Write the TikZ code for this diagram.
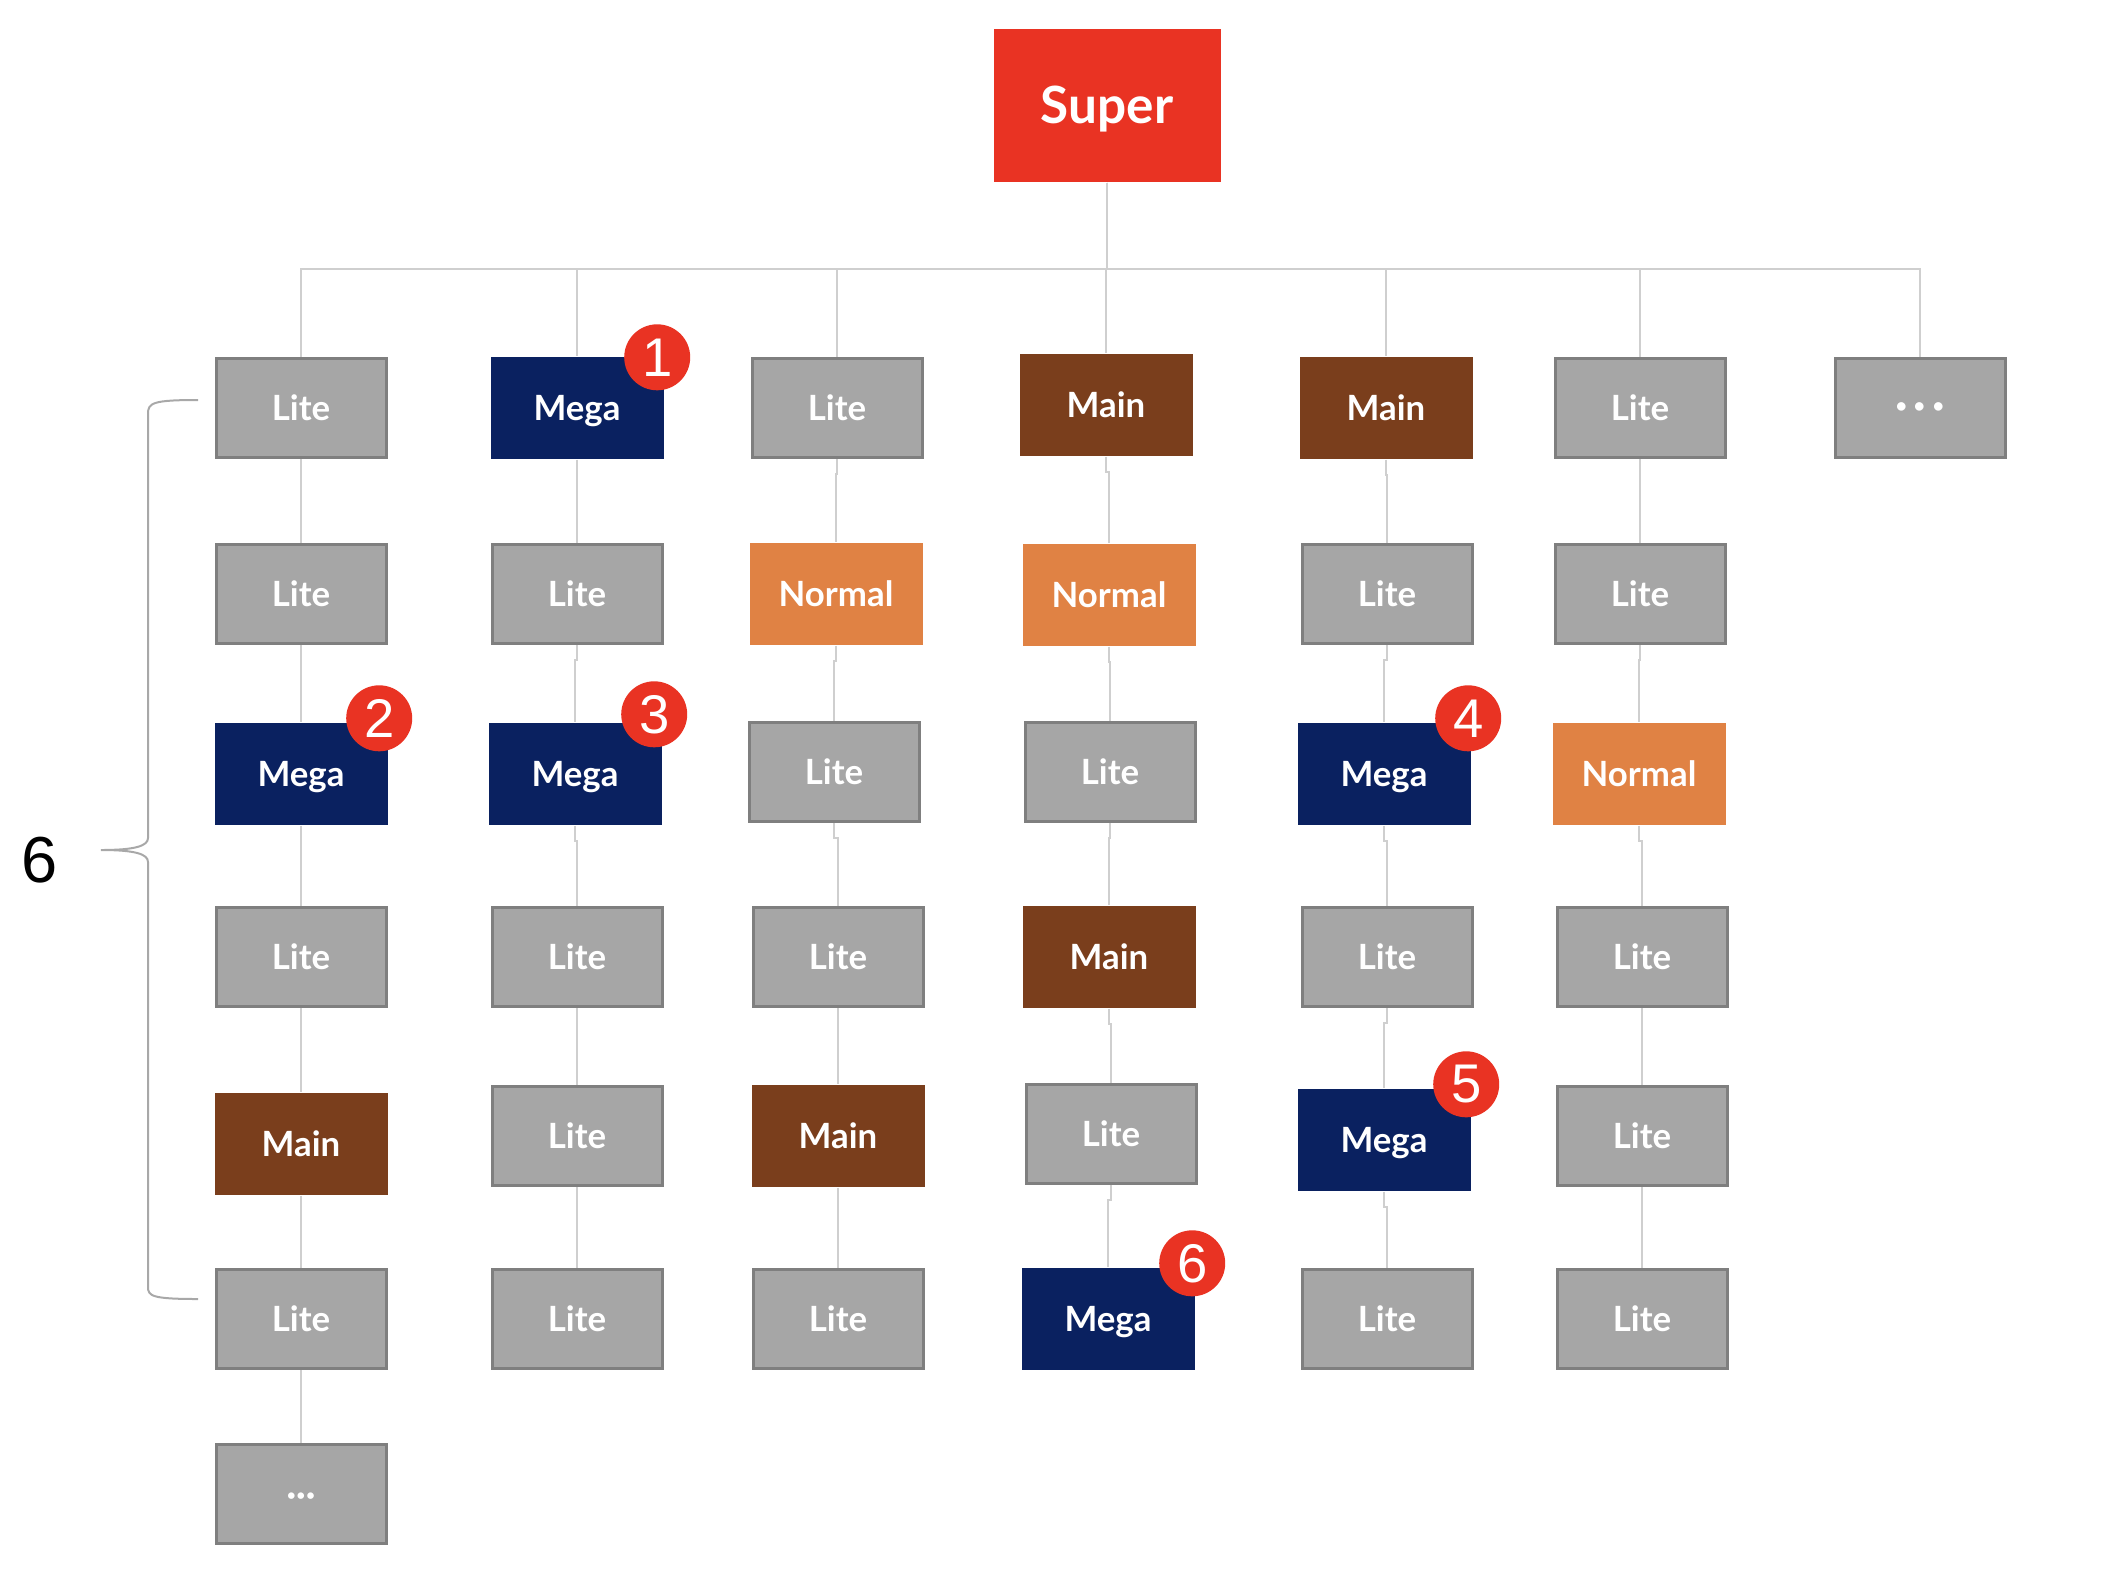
\documentclass[tikz,border=0pt]{standalone}
\usepackage{fontspec}
\setmainfont{Lato}
\newfontfamily\numfont{Liberation Sans}
\usetikzlibrary{calc}

\definecolor{superred}{HTML}{E93323}
\definecolor{litegray}{HTML}{A6A6A6}
\definecolor{liteedge}{HTML}{7F7F7F}
\definecolor{meganavy}{HTML}{0A2160}
\definecolor{mainbrown}{HTML}{7A3E1C}
\definecolor{normalorange}{HTML}{E08244}
\definecolor{linkgray}{HTML}{CFCFCF}
\definecolor{bracegray}{HTML}{A8A8A8}

\begin{document}
\begin{tikzpicture}[x=0.1mm, y=-0.1mm,
    boxtext/.style={text=white, font=\fontsize{9.9}{11}\selectfont\bfseries, inner sep=0pt, text height=7.3pt, text depth=0pt},
    litebox/.style={boxtext, fill=litegray, draw=liteedge, line width=0.3mm, minimum width=17mm, minimum height=9.9mm},
    megabox/.style={boxtext, fill=meganavy, minimum width=17.3mm, minimum height=10.2mm},
    mainbox/.style={boxtext, fill=mainbrown, minimum width=17.3mm, minimum height=10.2mm},
    normalbox/.style={boxtext, fill=normalorange, minimum width=17.3mm, minimum height=10.2mm},
    superbox/.style={fill=superred, text=white, font=\fontsize{14.6}{17}\selectfont\bfseries, text height=10.5pt, text depth=0pt, minimum width=22.7mm, minimum height=15.3mm},
    badge/.style={circle, fill=superred, text=white, inner sep=0pt, minimum size=6.6mm, font=\numfont\fontsize{15.5}{16}\selectfont},
    link/.style={draw=linkgray, line width=0.2mm}]
    % 画布大小
    \useasboundingbox (0,0) rectangle (2108,1580);

    % 顶部节点
    \node[superbox] (super) at (1107,105.5) {Super};

    % 第一列
    \node[litebox] (c1r1) at (301,408) {Lite};
    \node[litebox] (c1r2) at (301,594) {Lite};
    \node[megabox] (c1r3) at (301,774) {Mega};
    \node[litebox] (c1r4) at (301,957) {Lite};
    \node[mainbox] (c1r5) at (301,1144) {Main};
    \node[litebox] (c1r6) at (301,1319) {Lite};
    \node[litebox] (c1r7) at (301,1494) {···};

    % 第二列
    \node[megabox] (c2r1) at (577,408) {Mega};
    \node[litebox] (c2r2) at (577,594) {Lite};
    \node[megabox] (c2r3) at (575,774) {Mega};
    \node[litebox] (c2r4) at (577,957) {Lite};
    \node[litebox] (c2r5) at (577,1136) {Lite};
    \node[litebox] (c2r6) at (577,1319) {Lite};

    % 第三列
    \node[litebox] (c3r1) at (837,408) {Lite};
    \node[normalbox] (c3r2) at (836,594) {Normal};
    \node[litebox] (c3r3) at (834,772) {Lite};
    \node[litebox] (c3r4) at (838,957) {Lite};
    \node[mainbox] (c3r5) at (838,1136) {Main};
    \node[litebox] (c3r6) at (838,1319) {Lite};

    % 第四列
    \node[mainbox] (c4r1) at (1106,405) {Main};
    \node[normalbox] (c4r2) at (1109,595) {Normal};
    \node[litebox] (c4r3) at (1110,772) {Lite};
    \node[mainbox] (c4r4) at (1109,957) {Main};
    \node[litebox] (c4r5) at (1111,1134) {Lite};
    \node[megabox] (c4r6) at (1108,1319) {Mega};

    % 第五列
    \node[mainbox] (c5r1) at (1386,408) {Main};
    \node[litebox] (c5r2) at (1387,594) {Lite};
    \node[megabox] (c5r3) at (1384,774) {Mega};
    \node[litebox] (c5r4) at (1387,957) {Lite};
    \node[megabox] (c5r5) at (1384,1140) {Mega};
    \node[litebox] (c5r6) at (1387,1319) {Lite};

    % 第六列
    \node[litebox] (c6r1) at (1640,408) {Lite};
    \node[litebox] (c6r2) at (1640,594) {Lite};
    \node[normalbox] (c6r3) at (1639,774) {Normal};
    \node[litebox] (c6r4) at (1642,957) {Lite};
    \node[litebox] (c6r5) at (1642,1136) {Lite};
    \node[litebox] (c6r6) at (1642,1319) {Lite};

    % 第七列
    \node[litebox, font=\fontsize{13}{14}\selectfont\bfseries] (c7r1) at (1920,408) {·\hspace{0.6mm}·\hspace{0.6mm}·};

    % 编号
    \node[badge] (b1) at ([xshift=-0.7mm, yshift=-0.1mm]c2r1.north east) {1};
    \node[badge] (b2) at ([xshift=-0.9mm, yshift=0.4mm]c1r3.north east) {2};
    \node[badge] (b3) at ([xshift=-0.8mm, yshift=0.8mm]c2r3.north east) {3};
    \node[badge] (b4) at ([xshift=-0.3mm, yshift=0.4mm]c5r3.north east) {4};
    \node[badge] (b5) at ([xshift=-0.5mm, yshift=0.4mm]c5r5.north east) {5};
    \node[badge] (b6) at ([xshift=-0.3mm, yshift=0.4mm]c4r6.north east) {6};

    % 总线
    \foreach \c in {1,...,7}
        \draw[link] (super.south) -- ++(0,86) -| (c\c r1.north);

    % 列内连线
    \draw[link] (c1r1.south) -- ++(0,15) -| (c1r2.north)
                (c1r2.south) -- ++(0,15) -| (c1r3.north)
                (c1r3.south) -- ++(0,15) -| (c1r4.north)
                (c1r4.south) -- ++(0,15) -| (c1r5.north)
                (c1r5.south) -- ++(0,15) -| (c1r6.north)
                (c1r6.south) -- ++(0,15) -| (c1r7.north);
    \draw[link] (c2r1.south) -- ++(0,15) -| (c2r2.north)
                (c2r2.south) -- ++(0,15) -| (c2r3.north)
                (c2r3.south) -- ++(0,15) -| (c2r4.north)
                (c2r4.south) -- ++(0,15) -| (c2r5.north)
                (c2r5.south) -- ++(0,15) -| (c2r6.north);
    \draw[link] (c3r1.south) -- ++(0,15) -| (c3r2.north)
                (c3r2.south) -- ++(0,15) -| (c3r3.north)
                (c3r3.south) -- ++(0,15) -| (c3r4.north)
                (c3r4.south) -- ++(0,15) -| (c3r5.north)
                (c3r5.south) -- ++(0,15) -| (c3r6.north);
    \draw[link] (c4r1.south) -- ++(0,15) -| (c4r2.north)
                (c4r2.south) -- ++(0,15) -| (c4r3.north)
                (c4r3.south) -- ++(0,15) -| (c4r4.north)
                (c4r4.south) -- ++(0,15) -| (c4r5.north)
                (c4r5.south) -- ++(0,15) -| (c4r6.north);
    \draw[link] (c5r1.south) -- ++(0,15) -| (c5r2.north)
                (c5r2.south) -- ++(0,15) -| (c5r3.north)
                (c5r3.south) -- ++(0,15) -| (c5r4.north)
                (c5r4.south) -- ++(0,15) -| (c5r5.north)
                (c5r5.south) -- ++(0,15) -| (c5r6.north);
    \draw[link] (c6r1.south) -- ++(0,15) -| (c6r2.north)
                (c6r2.south) -- ++(0,15) -| (c6r3.north)
                (c6r3.south) -- ++(0,15) -| (c6r4.north)
                (c6r4.south) -- ++(0,15) -| (c6r5.north)
                (c6r5.south) -- ++(0,15) -| (c6r6.north);

    % 左侧大括号及数量
    \coordinate (bTop) at (198,400);
    \coordinate (bBot) at (198,1299);
    \coordinate (bTip) at (101,850);
    \draw[draw=bracegray, line width=0.2mm]
        (bTop) .. controls (152,400) and (148,403) .. (148,414) -- (148,838)
        .. controls (148,846) and (135,850) .. (bTip)
        .. controls (135,850) and (148,854) .. (148,862) -- (148,1287)
        .. controls (148,1296) and (152,1299) .. (bBot);
    \node[font=\numfont\fontsize{18.5}{20}\selectfont] (count) at (40,860) {6};
\end{tikzpicture}
\end{document}
